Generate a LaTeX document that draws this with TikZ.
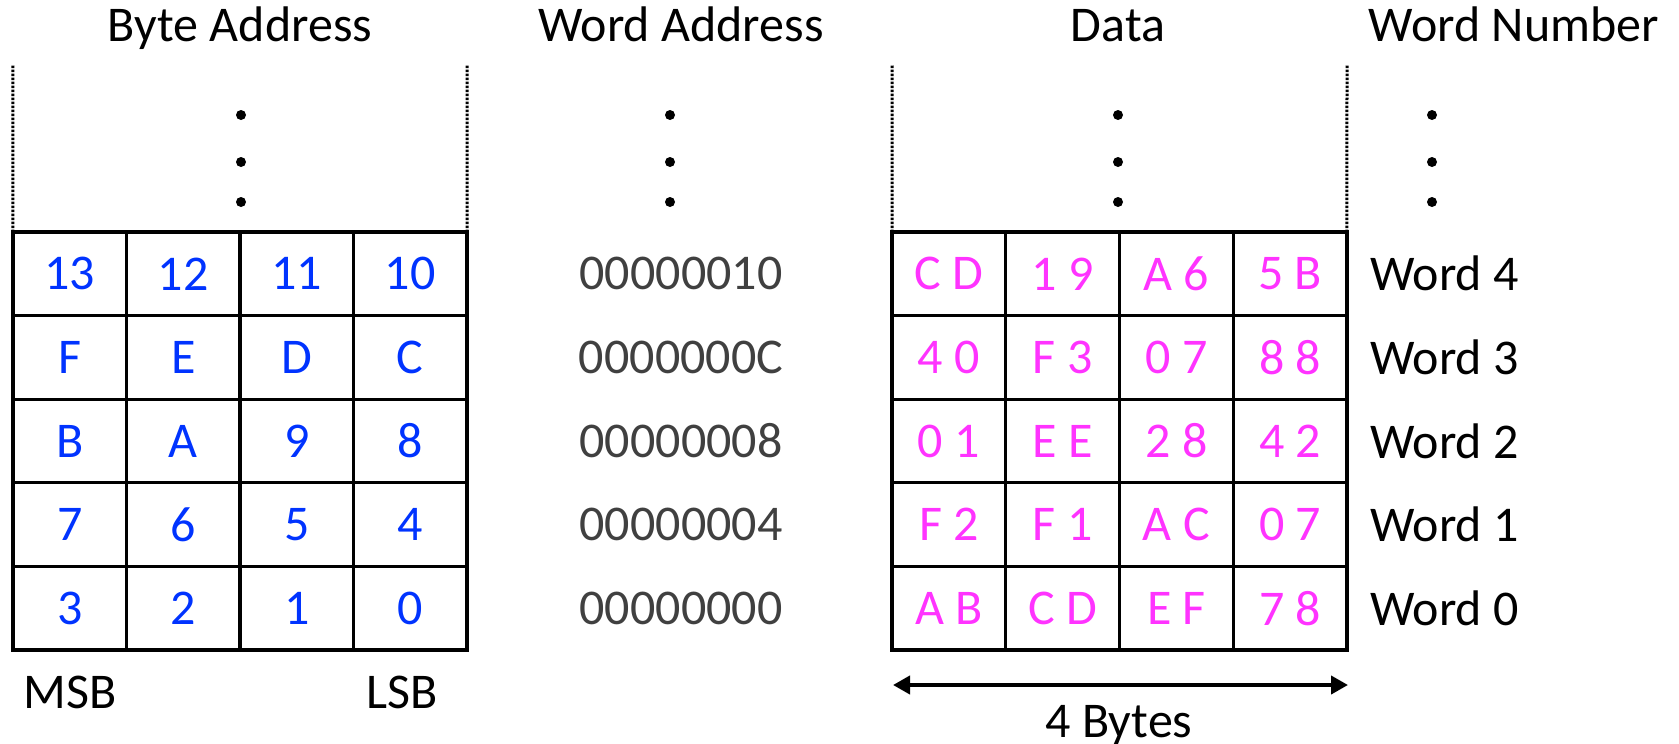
\documentclass[tikz,border=0pt]{standalone}
\usepackage{fontspec}
\setmainfont{Carlito}
\usetikzlibrary{arrows.meta}
\definecolor{bytecol}{RGB}{0,51,255}
\definecolor{datacol}{RGB}{255,51,255}
\definecolor{addrcol}{RGB}{64,64,64}
\tikzset{
  big/.style={font=\fontsize{50}{60}\selectfont},
  cell/.style={draw, line width=3.3pt, minimum width=113.6pt, minimum height=83.6pt,
               inner sep=0pt, outer sep=0pt, big},
  bytecell/.style={cell, text=bytecol},
  datacell/.style={cell, text=datacol},
  title/.style={big, anchor=base, inner sep=0pt},
  addr/.style={big, text=addrcol, inner sep=0pt},
  wordlbl/.style={big, anchor=west, inner sep=0pt},
  edge/.style={line width=3pt, dash pattern=on 2.5pt off 1.5pt},
  vdot/.style={fill, circle, inner sep=0pt, minimum size=10pt},
}
\begin{document}
\begin{tikzpicture}[x=1pt, y=-1pt]
\useasboundingbox (0,0) rectangle (1679,744);

% column titles
\node[title] (tByte) at (240,41) {Byte Address};
\node[title] (tWord) at (681,41) {Word Address};
\node[title] (tData) at (1118,41) {Data};
\node[title] (tNum)  at (1514,41) {Word Number};

% byte address table (row 0 = top)
\foreach \r/\a/\b/\c/\d in {0/13/12/11/10, 1/F/E/D/C, 2/B/A/9/8, 3/7/6/5/4, 4/3/2/1/0}{
  \foreach \col/\t in {1/\a, 2/\b, 3/\c, 4/\d}{
    \node[bytecell] (b-\r-\col) at ({13+113.5*(\col-0.5)},{232+83.6*(\r+0.5)}) {\t};
  }
}

% data table
\foreach \r/\a/\b/\c/\d in {0/C D/1 9/A 6/5 B, 1/4 0/F 3/0 7/8 8, 2/0 1/E E/2 8/4 2,
                            3/F 2/F 1/A C/0 7, 4/A B/C D/E F/7 8}{
  \foreach \col/\t in {1/\a, 2/\b, 3/\c, 4/\d}{
    \node[datacell] (d-\r-\col) at ({892+113.75*(\col-0.5)},{232+83.6*(\r+0.5)}) {\t};
  }
}

% word addresses and word numbers
\foreach \r/\adr/\w in {0/00000010/4, 1/0000000C/3, 2/00000008/2, 3/00000004/1, 4/00000000/0}{
  \node[addr] (a-\r) at (681,{232+83.6*(\r+0.5)}) {\adr};
  \node[wordlbl] (w-\r) at (1370,{232+83.6*(\r+0.5)}) {Word \w};
}

% dotted side edges above the tables
\coordinate (bl) at (13,65);
\coordinate (br) at (467,65);
\coordinate (dl) at (892,65);
\coordinate (dr) at (1347,65);
\draw[edge] (b-0-1.north west) -- (bl);
\draw[edge] (b-0-4.north east) -- (br);
\draw[edge] (d-0-1.north west) -- (dl);
\draw[edge] (d-0-4.north east) -- (dr);

% vertical ellipses
\foreach \x/\n in {241/b, 670/a, 1118/d, 1432/w}{
  \foreach \y/\k in {115/1, 162/2, 202/3}{
    \node[vdot] (e\n\k) at (\x,\y) {};
  }
}

% MSB / LSB labels
\node[title] (msb) at (70,708) {MSB};
\node[title] (lsb) at (402,708) {LSB};

% width of one word
\coordinate (al) at (893,685);
\coordinate (ar) at (1348,685);
\draw[line width=4pt, {Triangle[length=17pt,width=18pt]}-{Triangle[length=17pt,width=18pt]}] (al) -- (ar);
\node[title] (bytes) at (1119,737) {4 Bytes};
\end{tikzpicture}
\end{document}
